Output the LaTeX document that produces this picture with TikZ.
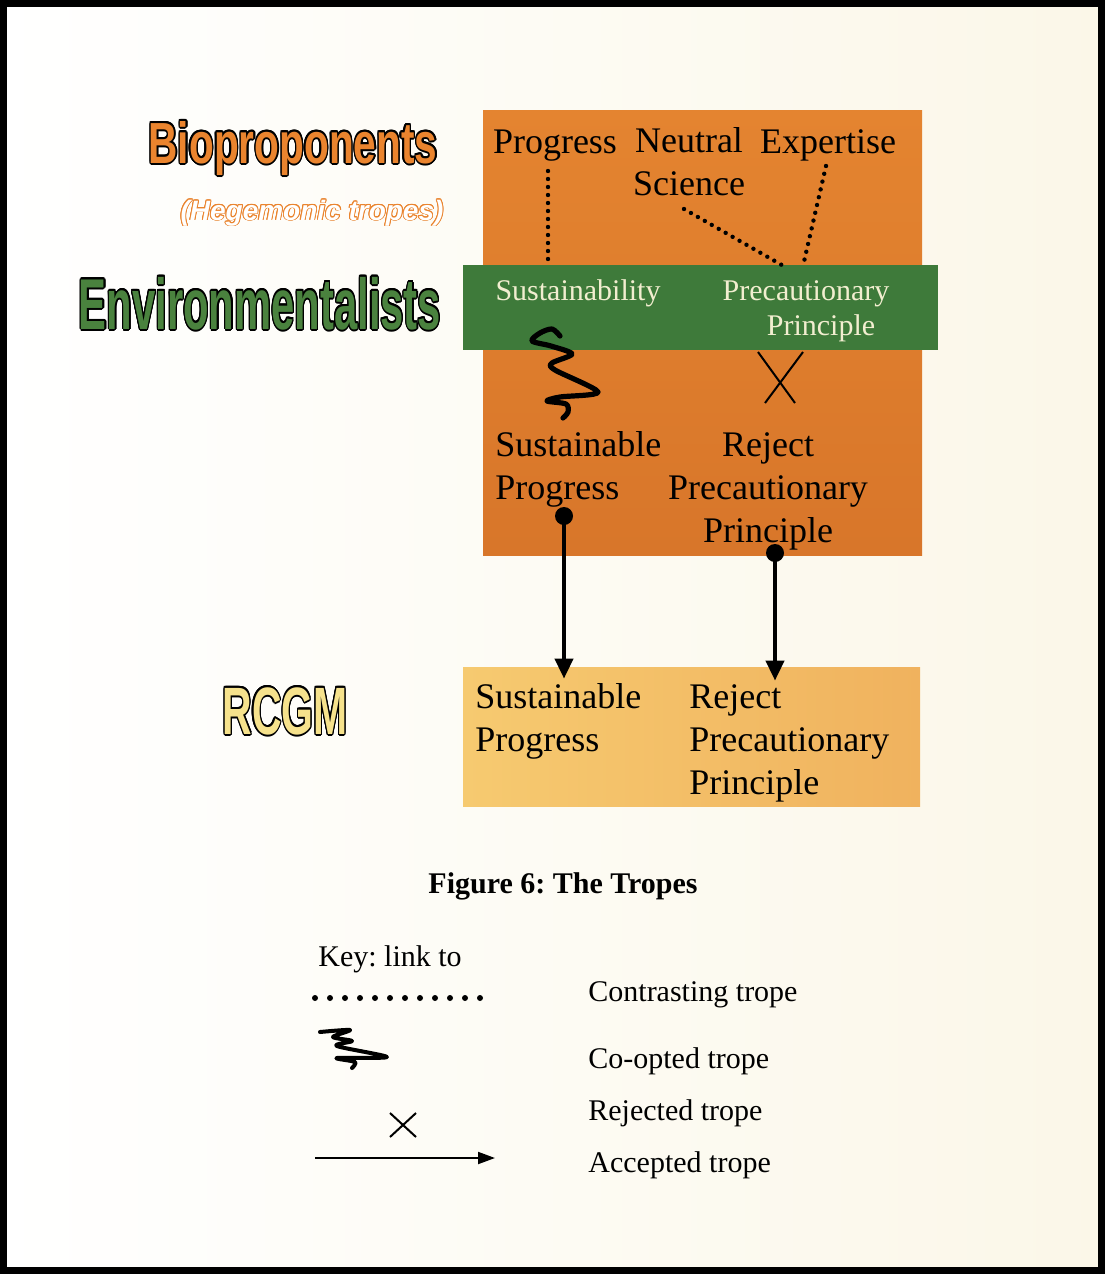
\documentclass[tikz,border=0pt]{standalone}
\usepackage{fontspec}
\setmainfont{Liberation Serif}
\setsansfont{Liberation Sans}
\usepackage{xcolor}
\usepackage{graphicx}
\usepackage{contour}
\contourlength{1pt}
\usepackage{tikz}
\usetikzlibrary{arrows.meta, positioning, calc}
\frenchspacing

\definecolor{bioorange}{RGB}{234,132,46}
\definecolor{envgreen}{RGB}{74,130,62}
\definecolor{rcgmyellow}{RGB}{246,226,140}
\definecolor{boxorange}{RGB}{228,132,48}
\definecolor{boxorangedk}{RGB}{216,118,42}
\definecolor{bandgreen}{RGB}{62,122,58}
\definecolor{lowleft}{RGB}{246,202,112}
\definecolor{lowright}{RGB}{240,178,94}
\definecolor{bandtext}{RGB}{242,238,208}
\definecolor{pagecream}{RGB}{251,247,232}

\tikzstyle{tropebox} = [rectangle, inner sep=0pt, draw=none]
\tikzstyle{hegbox}   = [tropebox, top color=boxorange, bottom color=boxorangedk]
\tikzstyle{envband}  = [tropebox, fill=bandgreen]
\tikzstyle{rcgmbox}  = [tropebox, left color=lowleft, right color=lowright]
\tikzstyle{trope}    = [inner sep=0pt, anchor=base, align=center,
    font=\fontsize{18}{21.5}\selectfont]
\tikzstyle{bandtrope} = [trope, text=bandtext,
    font=\fontsize{15}{17.5}\selectfont]
\tikzstyle{actor}    = [inner sep=0pt, anchor=base, font=\sffamily\bfseries]
\tikzstyle{keytext}  = [inner sep=0pt, anchor=base west,
    font=\fontsize{15}{18}\selectfont]
\tikzstyle{contrast} = [line width=2.2pt, line cap=round,
    dash pattern=on 0pt off 4pt]
\tikzstyle{coopt}    = [line width=2.6pt, line cap=round, line join=round]
\tikzstyle{reject}   = [line width=1pt]
\tikzstyle{accept}   = [-{Triangle[length=10pt, width=9pt]}, line width=2pt]

\begin{document}
\begin{tikzpicture}[x=0.5pt, y=-0.5pt]
  \useasboundingbox (0,0) rectangle (1105,1274);
  \fill[left color=white, right color=pagecream] (0,0) rectangle (1105,1274);

  % Boxes
  \node[hegbox, minimum width=219.5pt, minimum height=222.5pt] (heg) at (702.5,332.5) {};
  \node[envband, minimum width=237.5pt, minimum height=42.5pt] (band) at (700.5,307.5) {};
  \node[rcgmbox, minimum width=228.5pt, minimum height=69.5pt] (low) at (691.5,736.5) {};

  % Actors
  \node[actor, font=\fontsize{29}{30}\sffamily\bfseries] (bio) at (293,163)
    {\scalebox{0.70}[1]{\color{bioorange}\contour{black}{Bioproponents}}};
  \node[actor, font=\fontsize{14}{16}\sffamily\bfseries\itshape] (hegtxt) at (312,220)
    {{\contourlength{0.45pt}\color{white}\contour{bioorange}{(Hegemonic tropes)}}};
  \node[actor, font=\fontsize{36}{38}\sffamily\bfseries] (env) at (260,329)
    {\scalebox{0.58}[1]{\color{envgreen}\contour{black}{Environmentalists}}};
  \node[actor, font=\fontsize{33.5}{35}\sffamily\bfseries] (rcgm) at (285,734)
    {\scalebox{0.61}[1]{\color{rcgmyellow}\contour{black}{RCGM}}};

  % Hegemonic tropes
  \node[trope] (prog) at (555,153) {Progress};
  \node[trope] (neut) at (689,195) {Neutral\\Science};
  \node[trope] (expt) at (828,153) {Expertise};

  % Environmentalist tropes
  \node[bandtrope] (sust) at (578,300) {Sustainability};
  \node[bandtrope] (prec) at (806,335) {Precautionary\\\hspace*{15pt}Principle};

  % Responses
  \node[trope, anchor=base west, align=left] (sp1) at (495,499) {Sustainable\\Progress};
  \node[trope] (rp1) at (768,542) {Reject\\Precautionary\\Principle};
  \node[trope, anchor=base west, align=left] (sp2) at (475,751) {Sustainable\\Progress};
  \node[trope, anchor=base west, align=left] (rp2) at (689,794) {Reject\\Precautionary\\Principle};

  % Links
  \coordinate (sustop) at (548,262);
  \coordinate (prectop) at (787,268);
  \draw[contrast] ([xshift=-3.5pt, yshift=-9pt]prog.base) -- (sustop);
  \draw[contrast] (684,209) -- (prectop);
  \draw[contrast] (826,166) -- (803,266);

  \draw[coopt] plot[smooth, tension=0.5] coordinates {(560,336) (552,329) (540,333)
    (532,341) (551,346) (572,354) (552,363) (555,370) (598,392) (560,397)
    (547,401) (566,404) (568,412) (563,418)};

  \draw[reject] (758,352) -- (795,403);
  \draw[reject] (803,352) -- (765,403);

  \coordinate (spdot) at (564,516);
  \coordinate (rpdot) at (775,553);
  \fill (spdot) circle (4.5pt);
  \fill (rpdot) circle (4.5pt);
  \draw[accept] (spdot) -- ($(spdot |- low.north)+(0,12)$);
  \draw[accept] (rpdot) -- ($(rpdot |- low.north)+(0,14)$);

  % Caption
  \node[inner sep=0pt, anchor=base, font=\fontsize{15}{18}\selectfont\bfseries] (cap) at (563,893)
    {Figure 6: The Tropes};

  % Key
  \node[keytext] (key) at (318,966) {Key: link to};
  \node[keytext] (kcon) at (588,1001) {Contrasting trope};
  \node[keytext] (kcoo) at (588,1068) {Co-opted trope};
  \node[keytext] (krej) at (588,1120) {Rejected trope};
  \node[keytext] (kacc) at (588,1172) {Accepted trope};

  \draw[line width=3pt, line cap=round, dash pattern=on 0pt off 7.5pt] (315,998) -- (481,998);
  \draw[coopt, line width=2pt] plot[smooth, tension=0.5] coordinates {(320,1032) (350,1030)
    (333,1037) (352,1041) (337,1046) (387,1057) (337,1058) (355,1062) (352,1068)};
  \draw[reject] (390,1113) -- (416,1137);
  \draw[reject] (416,1113) -- (390,1137);
  \draw[-{Triangle[length=8.5pt, width=6pt]}, line width=1pt] (315,1158) -- (495,1158);

  % Frame
  \draw[line width=3.5pt] (3.5,3.5) rectangle (1101.5,1270.5);
\end{tikzpicture}
\end{document}
